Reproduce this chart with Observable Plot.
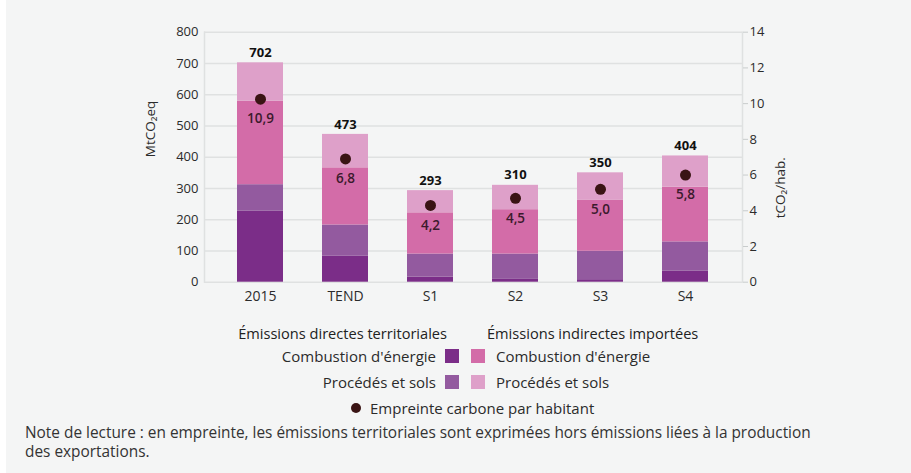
<!DOCTYPE html>
<html>
<head>
<meta charset="utf-8">
<script src="https://cdn.jsdelivr.net/npm/d3@7"></script>
<script src="https://cdn.jsdelivr.net/npm/@observablehq/plot@0.6"></script>
<style>
  html, body { margin: 0; padding: 0; background: #ffffff; }
  #page { position: relative; width: 911px; height: 473px; background: #f4f5f5; overflow: hidden; font-family: "Open Sans", sans-serif; color: #2b2b2b; }
  #strip { position: absolute; left: 0; top: 0; width: 6px; height: 473px; background: #ffffff; }
  #chart { position: absolute; left: 0; top: 0; }
  .lg { position: absolute; font-size: 15px; line-height: 18px; white-space: nowrap; color: #2b2b2b; }
  .hd { font-size: 14.6px; font-weight: 500; color: #222; }
  .sw { position: absolute; width: 14px; height: 14px; }
  .dot { position: absolute; width: 10px; height: 10px; border-radius: 50%; background: #3a1414; }
  #note { position: absolute; left: 25px; top: 423px; font-family: "Open Sans", sans-serif; font-size: 15.4px; line-height: 19px; color: #333; width: 870px; }
</style>
</head>
<body>
<div id="page">
  <div id="chart"></div>
  <div id="legend"></div>
  <div id="note">Note de lecture : en empreinte, les émissions territoriales sont exprimées hors émissions liées à la production<br>des exportations.</div>
  <div id="strip"></div>
</div>
<script>
// ---- Data ----
const categories = ["2015", "TEND", "S1", "S2", "S3", "S4"];
const series = [
  "Directes – Combustion d'énergie",
  "Directes – Procédés et sols",
  "Importées – Combustion d'énergie",
  "Importées – Procédés et sols"
];
const directCombustion  = [227, 84, 16, 9, 8, 35];
const directProcedes    = [85, 99, 74, 81, 91, 94];
const importCombustion  = [267, 183, 132, 142, 164, 175];
const importProcedes    = [123, 107, 71, 78, 87, 100];
const totals            = [702, 473, 293, 310, 350, 404];
const perCapitaDot      = [10.25, 6.9, 4.3, 4.7, 5.2, 6.0];   // dot position (tCO2/hab.)
const perCapitaLabel    = ["10,9", "6,8", "4,2", "4,5", "5,0", "5,8"];
const leftTicks  = [0, 100, 200, 300, 400, 500, 600, 700, 800];
const rightTicks = [0, 2, 4, 6, 8, 10, 12, 14];
const colors = ["#7b2d88", "#935a9f", "#d36ca8", "#dea0c9"];

const ratio = 800 / 14; // right axis (tCO2/hab.) to left axis (MtCO2eq)

const seriesValues = [directCombustion, directProcedes, importCombustion, importProcedes];
const rows = [];
categories.forEach((c, i) => {
  series.forEach((s, j) => rows.push({cat: c, series: s, value: seriesValues[j][i]}));
});
const totalRows = categories.map((c, i) => ({cat: c, total: totals[i]}));
const capRows = categories.map((c, i) => ({cat: c, v: perCapitaDot[i] * ratio, label: perCapitaLabel[i]}));

const font = "Open Sans, sans-serif";
const chart = Plot.plot({
  width: 911,
  height: 310,
  marginLeft: 204,
  marginRight: 169,
  marginTop: 31.7,
  marginBottom: 28.3,
  style: {background: "transparent", fontFamily: font, fontSize: "13px", color: "#2b2b2b"},
  x: {domain: categories, paddingInner: 0.457, paddingOuter: 0.37, label: null},
  y: {domain: [0, 800], label: null},
  color: {domain: series, range: colors},
  marks: [
    Plot.gridY(leftTicks, {stroke: "#dfe1e1", strokeOpacity: 1, strokeWidth: 1.5}),
    Plot.frame({anchor: "left", stroke: "#dfe1e1", strokeWidth: 1.5}),
    Plot.frame({anchor: "right", stroke: "#dfe1e1", strokeWidth: 1.5}),
    Plot.barY(rows, {x: "cat", y: "value", fill: "series", order: series}),
    Plot.axisY({anchor: "left", ticks: leftTicks, tickSize: 0, tickPadding: 6, label: null, fontSize: 13}),
    Plot.axisY({anchor: "right", ticks: rightTicks.map(d => d * ratio), tickFormat: d => String(Math.round(d / ratio)), tickSize: 5, tickPadding: 2, stroke: "#c8cccc", label: null, fontSize: 13}),
    Plot.axisX({tickSize: 0, tickPadding: 9, label: null, fontSize: 14}),
    Plot.text(["MtCO₂eq"], {frameAnchor: "left", dx: -54, rotate: -90, fontSize: 13.5, fill: "#2b2b2b"}),
    Plot.text(["tCO₂/hab."], {frameAnchor: "right", dx: 38, rotate: -90, fontSize: 13.5, fill: "#2b2b2b"}),
    Plot.text(totalRows, {x: "cat", y: "total", text: d => String(d.total), dy: -10, fontWeight: "bold", fontSize: 13, fill: "#111"}),
    Plot.dot(capRows, {x: "cat", y: "v", r: 5.5, fill: "#3a1414"}),
    Plot.text(capRows, {x: "cat", y: "v", text: "label", dy: 20, fontSize: 13.5, fontWeight: 600, fill: "#3b1a2c"})
  ]
});
document.getElementById("chart").appendChild(chart);

// ---- Legend (HTML) ----
const lg = document.getElementById("legend");
function add(html) { lg.insertAdjacentHTML("beforeend", html); }
const W = 911;
add(`<div class="lg hd" style="right:${W - 447}px; top:324px;">Émissions directes territoriales</div>`);
add(`<div class="lg hd" style="left:487px; top:324px;">Émissions indirectes importées</div>`);
const legRows = [
  {left: "Combustion d'énergie", right: "Combustion d'énergie", c1: colors[0], c2: colors[2], y: 356},
  {left: "Procédés et sols", right: "Procédés et sols", c1: colors[1], c2: colors[3], y: 382}
];
legRows.forEach(r => {
  add(`<div class="lg" style="right:${W - 436}px; top:${r.y - 9}px;">${r.left}</div>`);
  add(`<div class="sw" style="left:445px; top:${r.y - 7}px; background:${r.c1};"></div>`);
  add(`<div class="sw" style="left:471px; top:${r.y - 7}px; background:${r.c2};"></div>`);
  add(`<div class="lg" style="left:496px; top:${r.y - 9}px;">${r.right}</div>`);
});
add(`<div class="dot" style="left:351px; top:403px;"></div>`);
add(`<div class="lg" style="left:370px; top:399px;">Empreinte carbone par habitant</div>`);
</script>
</body>
</html>
